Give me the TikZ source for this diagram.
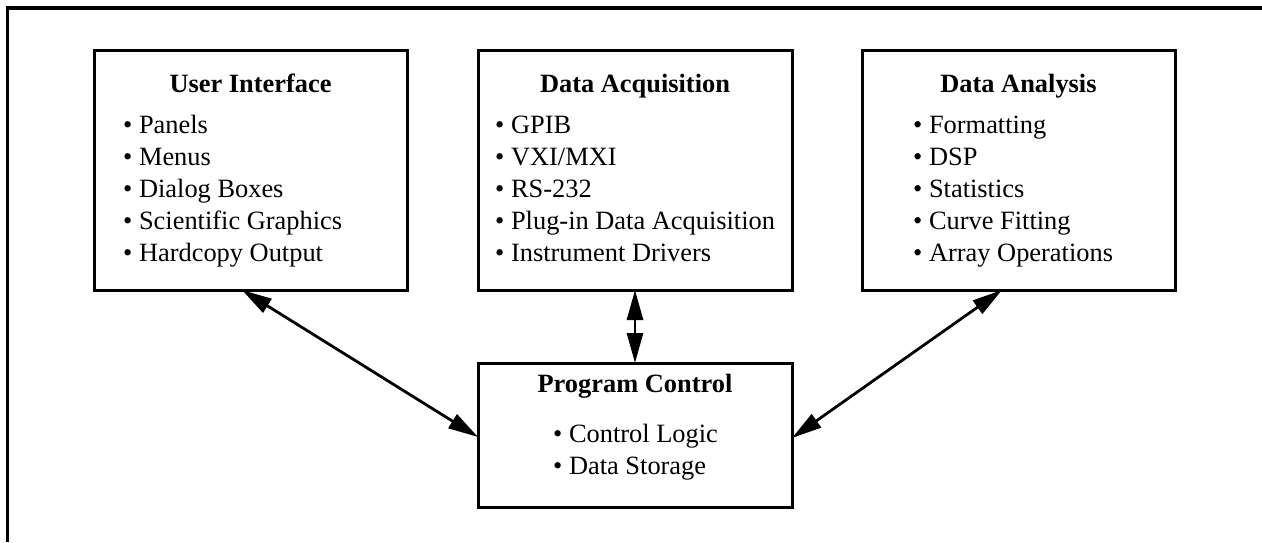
\documentclass[tikz,border=0pt]{standalone}
\usepackage{fontspec}
\setmainfont{Liberation Serif}
\usetikzlibrary{arrows.meta}
\begin{document}
\begin{tikzpicture}[x=1pt,y=-1pt,
  box/.style={draw, line width=3pt, rectangle, inner sep=0pt, outer sep=0pt},
  ttl/.style={anchor=base, inner sep=0pt, font=\fontsize{26.4}{32}\selectfont\bfseries},
  itm/.style={anchor=base west, inner sep=0pt, font=\fontsize{26.4}{32}\selectfont},
  link/.style={line width=2.8pt, {Triangle[length=30pt,width=16pt]}-{Triangle[length=30pt,width=16pt]}}]
\useasboundingbox (0,0) rectangle (1262,542);
% frame
\draw[line width=3.8pt] (7.5,542) -- (7.5,8) -- (1262,8);
% boxes
\node[box, minimum width=313pt, minimum height=240pt] (ui) at (250.5,170) {};
\node[box, minimum width=314pt, minimum height=240pt] (daq) at (635,170) {};
\node[box, minimum width=313pt, minimum height=240pt] (dan) at (1018.5,170) {};
\node[box, minimum width=314pt, minimum height=144pt] (pc) at (635,435) {};
% User Interface
\node[ttl] (uit) at (250.5,92) {User Interface};
\node[itm] (ui1) at (123,133) {\textbullet\ Panels};
\node[itm] (ui2) at (123,165) {\textbullet\ Menus};
\node[itm] (ui3) at (123,197) {\textbullet\ Dialog Boxes};
\node[itm] (ui4) at (123,229) {\textbullet\ Scientific Graphics};
\node[itm] (ui5) at (123,261) {\textbullet\ Hardcopy Output};
% Data Acquisition
\node[ttl] (daqt) at (635,92) {Data Acquisition};
\node[itm] (daq1) at (495,133) {\textbullet\ GPIB};
\node[itm] (daq2) at (495,165) {\textbullet\ VXI/MXI};
\node[itm] (daq3) at (495,197) {\textbullet\ RS-232};
\node[itm] (daq4) at (495,229) {\textbullet\ Plug-in Data Acquisition};
\node[itm] (daq5) at (495,261) {\textbullet\ Instrument Drivers};
% Data Analysis
\node[ttl] (dant) at (1018.5,92) {Data Analysis};
\node[itm] (dan1) at (913,133) {\textbullet\ Formatting};
\node[itm] (dan2) at (913,165) {\textbullet\ DSP};
\node[itm] (dan3) at (913,197) {\textbullet\ Statistics};
\node[itm] (dan4) at (913,229) {\textbullet\ Curve Fitting};
\node[itm] (dan5) at (913,261) {\textbullet\ Array Operations};
% Program Control
\node[ttl] (pct) at (635,392) {Program Control};
\node[itm] (pc1) at (553,442) {\textbullet\ Control Logic};
\node[itm] (pc2) at (553,474) {\textbullet\ Data Storage};
% connectors
\draw[link] ([xshift=148pt]ui.south west) -- ([yshift=-2pt]pc.west);
\draw[link] (daq.south) -- (pc.north);
\draw[link] ([xshift=140pt]dan.south west) -- ([yshift=-3pt]pc.east);
\end{tikzpicture}
\end{document}
